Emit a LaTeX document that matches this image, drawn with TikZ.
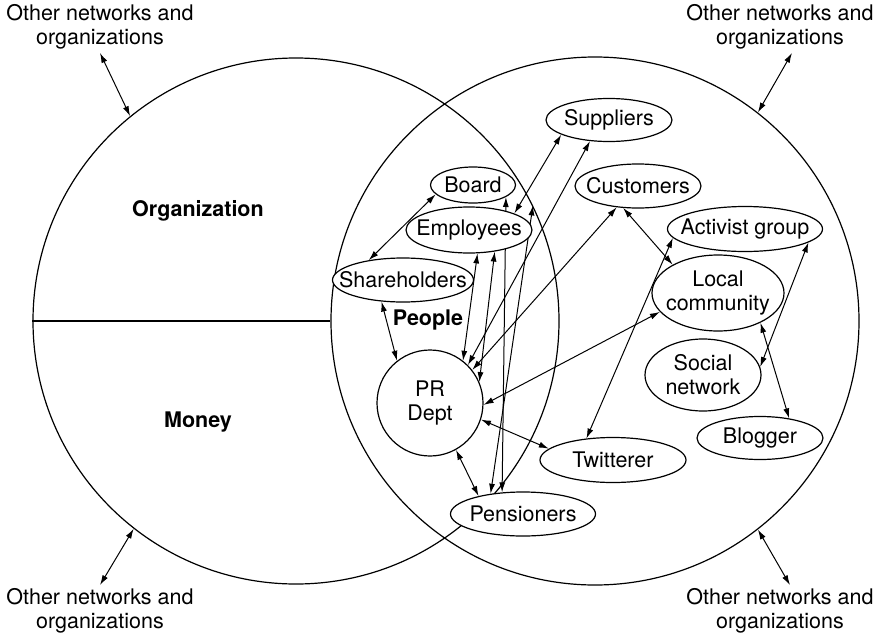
\documentclass[tikz,border=0pt]{standalone}
\usepackage{fontspec}
\setmainfont{TeX Gyre Heros}
\usetikzlibrary{shapes.geometric,arrows.meta,backgrounds}

\begin{document}
\begin{tikzpicture}[x=1pt, y=-1pt,
    every node/.style={font=\fontsize{21.5}{24}\selectfont},
    zone/.style={circle, draw, line width=1.2pt, inner sep=0pt},
    party/.style={ellipse, draw, fill=white, line width=1.2pt, inner sep=0pt},
    area/.style={font=\fontsize{21.5}{24}\selectfont\bfseries},
    link/.style={<->, >={Latex[length=10pt,width=6pt]}, line width=1pt}]
    \useasboundingbox (0,0) rectangle (879,635);

    % the two big circles
    \node[zone, minimum size=526pt] (orgc) at (296,321) {};
    \node[zone, minimum size=528pt] (extc) at (595,321) {};
    \draw[line width=1.2pt] (orgc.west) -- (extc.west);

    \node[area] (organization) at (198,211) {Organization};
    \node[area] (money) at (198,422) {Money};
    \node[area] (people) at (428,320) {People};

    \node[align=center] (tl) at (100,27) {Other networks and\\organizations};
    \node[align=center] (tr) at (780,27) {Other networks and\\organizations};
    \node[align=center] (bl) at (100,611) {Other networks and\\organizations};
    \node[align=center] (br) at (780,611) {Other networks and\\organizations};

    % groups
    \node[party, minimum width=126pt, minimum height=43pt, label=center:Suppliers] (sup) at (609,120) {};
    \node[party, minimum width=85pt, minimum height=36pt, label=center:Board] (brd) at (473,185) {};
    \node[party, minimum width=126pt, minimum height=44pt, label=center:Customers] (cus) at (638,186) {};
    \node[party, minimum width=126pt, minimum height=46pt, label=center:Employees] (emp) at (469,230) {};
    \node[party, minimum width=155pt, minimum height=45pt, label=center:Activist group] (act) at (745,229) {};
    \node[party, minimum width=141pt, minimum height=44pt, label=center:Shareholders] (sha) at (403,280) {};
    \node[party, minimum width=132pt, minimum height=76pt, label={[align=center]center:Local\\community}] (loc) at (718,293) {};
    \node[party, minimum width=116pt, minimum height=72pt, label={[align=center]center:Social\\network}] (soc) at (703,375) {};
    \node[party, circle, minimum size=106pt, label={[align=center]center:PR\\Dept}] (pr) at (430,403) {};
    \node[party, minimum width=126pt, minimum height=43pt, label=center:Blogger] (blg) at (760,438) {};
    \node[party, minimum width=146pt, minimum height=45pt, label=center:Twitterer] (twi) at (613,460) {};
    \node[party, minimum width=145pt, minimum height=44pt, label=center:Pensioners] (pen) at (523,514) {};

    \begin{scope}[on background layer]
    % links between groups
    \draw[link] (brd.194) -- (sha.150);
    \draw[link] (sha.225) -- (pr.128);
    \draw[link] (emp.290) -- (pr.52);
    \draw[link] (emp.320) -- (pr.23);
    \draw[link] (brd.340) -- (pen.134);
    \draw[link] (orgc.26) -- (pen.148);
    \draw[link] (sup.197) -- (emp.20);
    \draw[link] (sup.228) -- (pr.45);
    \draw[link] (cus.225) -- (pr.38);
    \draw[link] (cus.236) -- (loc.148);
    \draw[link] (act.187) -- (twi.141);
    \draw[link] (pr.358) -- (loc.198);
    \draw[link] (pr.342) -- (twi.170);
    \draw[link] (pr.299) -- (pen.158);
    \draw[link] (act.348) -- (soc.8);
    \draw[link] (loc.325) -- (blg.34);

    % outside world
    \draw[link] (tl.south) -- (orgc.129);
    \draw[link] (bl.north) -- (orgc.232);
    \draw[link] ([xshift=12pt]tr.south) -- (extc.52);
    \draw[link] ([xshift=10pt]br.north) -- (extc.308);
    \end{scope}
\end{tikzpicture}
\end{document}
